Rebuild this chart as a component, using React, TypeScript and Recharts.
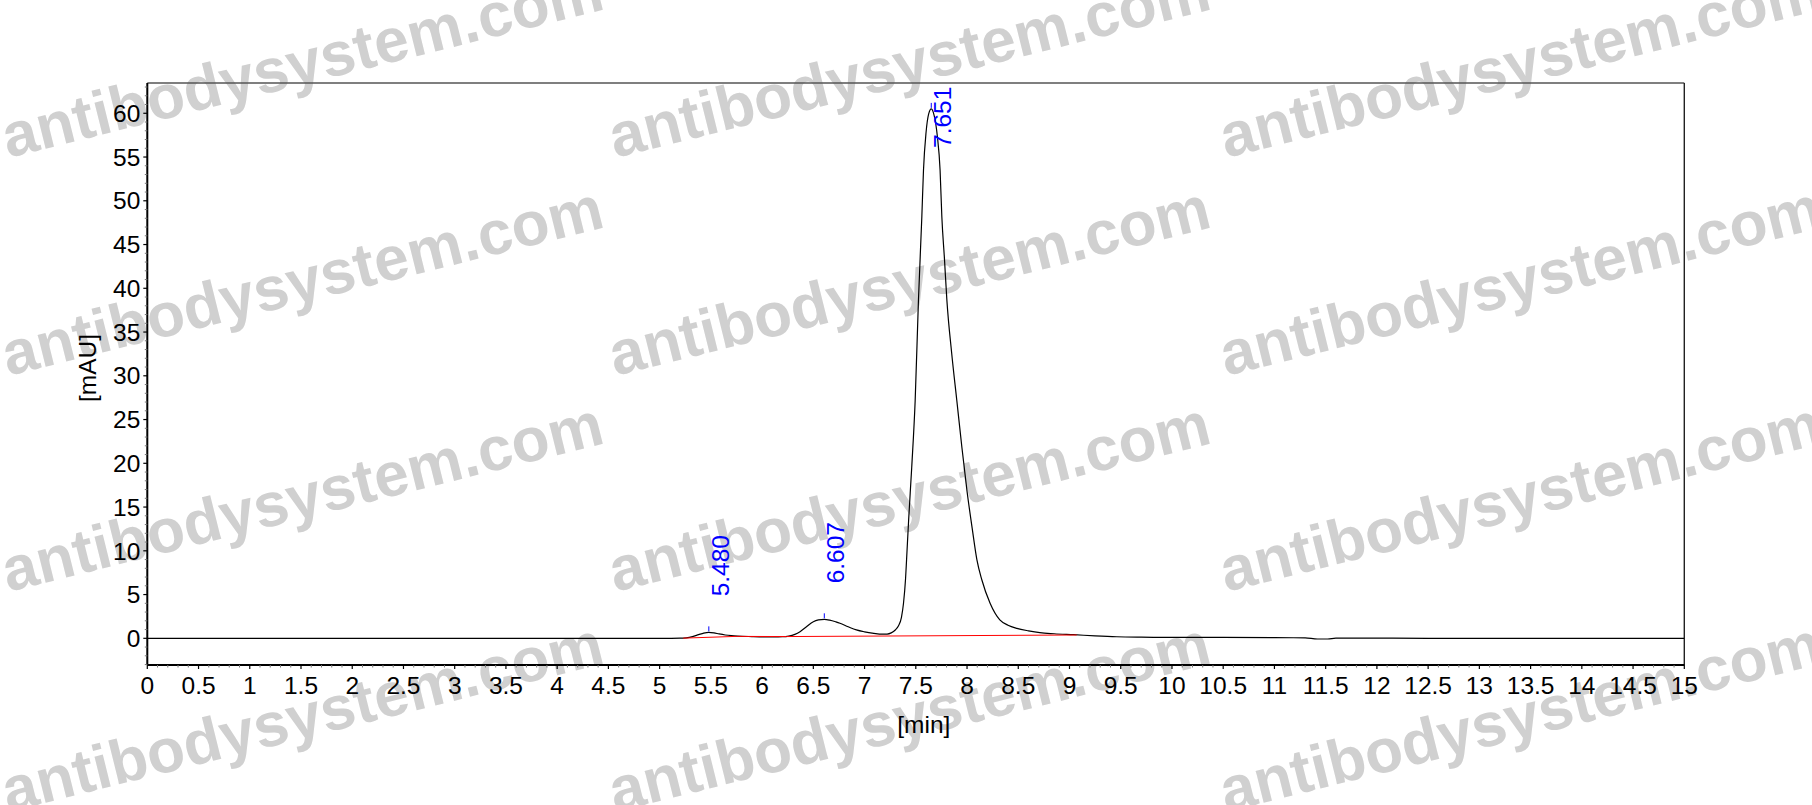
import React from 'react';
import { ComposedChart, Line, Scatter, XAxis, YAxis, ReferenceLine, Label } from 'recharts';

// ---------- data ----------
const signal = [
  { t: 0, v: 0 }, { t: 1, v: 0 }, { t: 2, v: 0 }, { t: 3, v: 0 }, { t: 4, v: 0 }, { t: 5, v: 0 },
  { t: 5.2, v: 0.01 }, { t: 5.26, v: 0.06 }, { t: 5.32, v: 0.2 }, { t: 5.38, v: 0.42 },
  { t: 5.43, v: 0.6 }, { t: 5.48, v: 0.68 }, { t: 5.53, v: 0.62 }, { t: 5.58, v: 0.5 },
  { t: 5.64, v: 0.38 }, { t: 5.7, v: 0.3 }, { t: 5.76, v: 0.25 }, { t: 5.9, v: 0.2 },
  { t: 6.05, v: 0.17 }, { t: 6.2, v: 0.18 }, { t: 6.26, v: 0.25 }, { t: 6.32, v: 0.45 },
  { t: 6.37, v: 0.76 }, { t: 6.43, v: 1.3 }, { t: 6.5, v: 1.9 }, { t: 6.55, v: 2.1 },
  { t: 6.607, v: 2.17 }, { t: 6.66, v: 2.08 }, { t: 6.72, v: 1.88 }, { t: 6.76, v: 1.72 },
  { t: 6.84, v: 1.32 }, { t: 6.92, v: 0.96 }, { t: 7.0, v: 0.74 }, { t: 7.09, v: 0.57 },
  { t: 7.17, v: 0.47 }, { t: 7.22, v: 0.48 }, { t: 7.26, v: 0.62 }, { t: 7.3, v: 0.95 },
  { t: 7.33, v: 1.4 }, { t: 7.36, v: 2.4 }, { t: 7.38, v: 4.0 }, { t: 7.4, v: 6.8 },
  { t: 7.41, v: 9.0 }, { t: 7.43, v: 13.5 }, { t: 7.46, v: 19.5 }, { t: 7.494, v: 27.2 },
  { t: 7.526, v: 38.7 }, { t: 7.559, v: 48.2 }, { t: 7.575, v: 53.5 }, { t: 7.6, v: 57.8 },
  { t: 7.625, v: 59.9 }, { t: 7.651, v: 60.5 }, { t: 7.68, v: 59.7 }, { t: 7.71, v: 57.4 },
  { t: 7.737, v: 53.5 }, { t: 7.754, v: 48.2 }, { t: 7.78, v: 43.3 }, { t: 7.803, v: 38.7 },
  { t: 7.85, v: 32.6 }, { t: 7.9, v: 27.2 }, { t: 7.95, v: 21.8 }, { t: 8.0, v: 16.8 },
  { t: 8.05, v: 12.6 }, { t: 8.096, v: 9.0 }, { t: 8.145, v: 6.66 }, { t: 8.225, v: 4.0 },
  { t: 8.32, v: 2.1 }, { t: 8.4, v: 1.5 }, { t: 8.486, v: 1.14 }, { t: 8.6, v: 0.85 },
  { t: 8.71, v: 0.64 }, { t: 8.85, v: 0.52 }, { t: 9.04, v: 0.41 }, { t: 9.25, v: 0.28 },
  { t: 9.46, v: 0.18 }, { t: 9.7, v: 0.13 }, { t: 10.0, v: 0.1 }, { t: 10.5, v: 0.1 },
  { t: 11.0, v: 0.08 }, { t: 11.3, v: 0.05 }, { t: 11.42, v: -0.08 }, { t: 11.52, v: -0.08 },
  { t: 11.6, v: 0.02 }, { t: 12.0, v: 0.02 }, { t: 12.5, v: 0 }, { t: 13, v: 0 },
  { t: 14, v: 0 }, { t: 15, v: 0 },
];

const integrationBaseline = [
  { t: 5.23, v: 0.02 }, { t: 5.75, v: 0.22 }, { t: 6.24, v: 0.2 }, { t: 9.07, v: 0.38 },
];

const peaks = [
  { t: 5.48, v: 0.68, label: '5.480' },
  { t: 6.607, v: 2.17, label: '6.607' },
  { t: 7.651, v: 60.5, label: '7.651' },
];

const X_DOMAIN = [0, 15];
const Y_DOMAIN = [-3.05, 63.46];
const xTicks = Array.from({ length: 151 }, (_, i) => i / 10);
const yTicks = Array.from({ length: 67 }, (_, i) => i - 3);

const watermarkCols = [8, 615, 1226];
const watermarkRows = [158, 376, 592, 812];
const WATERMARK = 'antibodysystem.com';

// ---------- layout ----------
const W = 1812;
const H = 805;
const Y_AXIS_W = 90;
const X_AXIS_H = 80;
const MARGIN = { top: 83, right: W - 1684.3, bottom: H - 665 - X_AXIS_H, left: 147.3 - Y_AXIS_W };
const FONT = '"Liberation Sans", Arial, sans-serif';
const FS = 24.5;
const LABEL_LEN = 61;

const XTick = (props: any) => {
  const { x, y, payload } = props;
  const v = payload.value;
  const major = Math.round(v * 10) % 5 === 0;
  const axisY = y - 12;
  return (
    <g>
      <line x1={x} x2={x} y1={axisY} y2={axisY + (major ? 4 : 2.5)} stroke={major ? '#000' : '#777'} strokeWidth={major ? 1.2 : 1} />
      {major && (
        <text x={x} y={y} dy="0.71em" textAnchor="middle" fontSize={FS} fontFamily={FONT} fill="#000">
          {String(v)}
        </text>
      )}
    </g>
  );
};

const YTick = (props: any) => {
  const { x, y, payload } = props;
  const v = payload.value;
  const major = v % 5 === 0;
  const axisX = x + 7;
  return (
    <g>
      <line x1={axisX - (major ? 4 : 2.5)} x2={axisX} y1={y} y2={y} stroke={major ? '#000' : '#777'} strokeWidth={major ? 1.2 : 1} />
      {major && (
        <text x={x} y={y} dy="0.355em" textAnchor="end" fontSize={FS} fontFamily={FONT} fill="#000">
          {String(v)}
        </text>
      )}
    </g>
  );
};

const PeakMark = (props: any) => {
  const { cx, cy, payload } = props;
  const start = Math.max(cy - 36, MARGIN.top + 4 + LABEL_LEN);
  return (
    <g>
      <line x1={cx} x2={cx} y1={cy - 1} y2={cy - 6} stroke="#0000ff" strokeWidth={1} />
      <text transform={`translate(${cx + 20},${start}) rotate(-90)`} fill="#0000ff" fontSize={FS} fontFamily={FONT}>
        {payload.label}
      </text>
    </g>
  );
};

const XLabel = (props: any) => {
  const vb = props.viewBox || { x: 147.3, y: 665, width: 1537, height: X_AXIS_H };
  return (
    <text x={vb.x + vb.width / 2 + 8} y={vb.y + 68} textAnchor="middle" fontSize={FS} fontFamily={FONT} fill="#000">
      [min]
    </text>
  );
};

const YLabel = (props: any) => {
  const vb = props.viewBox || { x: 57.3, y: 83, width: Y_AXIS_W, height: 582 };
  const cx = vb.x + 30;
  const cy = vb.y + vb.height / 2 - 6;
  return (
    <text x={cx} y={cy} dy="0.36em" transform={`rotate(-90, ${cx}, ${cy})`} textAnchor="middle" fontSize={FS} fontFamily={FONT} fill="#000">
      [mAU]
    </text>
  );
};

export default function App() {
  return (
    <div style={{ position: 'absolute', left: 0, top: 0, width: W, height: H, background: '#fff', fontFamily: FONT }}>
      <svg width={W} height={H} style={{ position: 'absolute', left: 0, top: 0 }}>
        {watermarkRows.map((wy) =>
          watermarkCols.map((wx) => (
            <text
              key={`${wx}-${wy}`}
              x={wx}
              y={wy}
              transform={`rotate(-14, ${wx}, ${wy})`}
              fontSize={62}
              fontWeight="bold"
              fontFamily={FONT}
              fill="#d0d0d0"
            >
              {WATERMARK}
            </text>
          ))
        )}
      </svg>
      <div style={{ position: 'absolute', left: 0, top: 0 }}>
        <ComposedChart width={W} height={H} margin={MARGIN}>
          <XAxis
            dataKey="t"
            type="number"
            domain={X_DOMAIN}
            ticks={xTicks}
            interval={0}
            allowDataOverflow
            height={X_AXIS_H}
            tickLine={false}
            tickSize={4}
            tickMargin={8}
            tick={<XTick />}
            axisLine={{ stroke: '#000', strokeWidth: 2 }}
          >
            <Label content={<XLabel />} />
          </XAxis>
          <YAxis
            dataKey="v"
            type="number"
            domain={Y_DOMAIN}
            ticks={yTicks}
            interval={0}
            allowDataOverflow
            width={Y_AXIS_W}
            tickLine={false}
            tickSize={4}
            tickMargin={3}
            tick={<YTick />}
            axisLine={{ stroke: '#000', strokeWidth: 2 }}
          >
            <Label content={<YLabel />} />
          </YAxis>
          <ReferenceLine y={Y_DOMAIN[1]} stroke="#555" strokeWidth={1.6} />
          <ReferenceLine x={X_DOMAIN[1]} stroke="#222" strokeWidth={1.4} />
          <Line
            data={signal}
            dataKey="v"
            type="monotone"
            stroke="#000"
            strokeWidth={1.2}
            dot={false}
            activeDot={false}
            isAnimationActive={false}
          />
          <Line
            data={integrationBaseline}
            dataKey="v"
            type="linear"
            stroke="#ff0000"
            strokeWidth={1}
            dot={false}
            activeDot={false}
            isAnimationActive={false}
          />
          <Scatter data={peaks} dataKey="v" shape={<PeakMark />} isAnimationActive={false} />
        </ComposedChart>
      </div>
    </div>
  );
}
